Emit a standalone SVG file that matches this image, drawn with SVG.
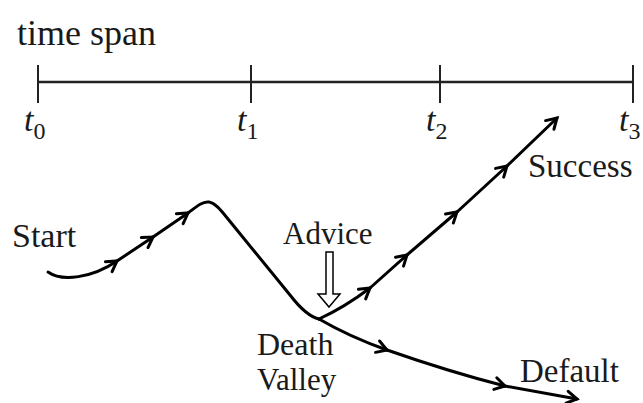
<svg xmlns="http://www.w3.org/2000/svg" width="643" height="403" viewBox="0 0 643 403">
<defs>
<style>
.lbl{font-family:"Liberation Serif","Times New Roman",serif;fill:#1a1a1a;}
.t{font-family:"Liberation Serif","Times New Roman",serif;fill:#1a1a1a;font-size:34px;}
.ti{font-style:italic;}
.sub{font-size:24px;}
.axis{stroke:#222;fill:none;}
.flow{stroke:#000;stroke-width:3;fill:none;stroke-linecap:round;stroke-linejoin:round;marker-end:url(#chev);}
.curve{stroke:#000;stroke-width:3;fill:none;stroke-linecap:round;stroke-linejoin:round;}
</style>
<marker id="chev" markerUnits="userSpaceOnUse" markerWidth="20" markerHeight="20" viewBox="-12 -10 16 20" refX="0" refY="0" orient="auto">
<path d="M-10,-6 L0,0 L-10,6" fill="none" stroke="#000" stroke-width="3" stroke-linecap="round" stroke-linejoin="miter"/>
</marker>
</defs>
<rect width="643" height="403" fill="#fff"/>

<g id="title"><text class="lbl" x="17" y="45" font-size="36">time span</text></g>

<g id="timeline">
<line class="axis" x1="38" y1="82" x2="633" y2="82" stroke-width="2.5"/>
<line class="axis" x1="38" y1="65" x2="38" y2="103" stroke-width="2"/>
<line class="axis" x1="251" y1="65" x2="251" y2="103" stroke-width="2"/>
<line class="axis" x1="440" y1="65" x2="440" y2="103" stroke-width="2"/>
<line class="axis" x1="633" y1="65" x2="633" y2="103" stroke-width="2"/>
<text class="t" x="24" y="131"><tspan class="ti">t</tspan><tspan class="sub" dy="8">0</tspan></text>
<text class="t" x="237" y="131"><tspan class="ti">t</tspan><tspan class="sub" dy="8">1</tspan></text>
<text class="t" x="426" y="131"><tspan class="ti">t</tspan><tspan class="sub" dy="8">2</tspan></text>
<text class="t" x="619" y="131"><tspan class="ti">t</tspan><tspan class="sub" dy="8">3</tspan></text>
</g>

<g id="start"><text class="lbl" x="12" y="247" font-size="34">Start</text></g>
<g id="advice">
<text class="lbl" x="283" y="244" font-size="31">Advice</text>
<polygon points="326,252 333,252 333,294 340,294 329,307 318,294 326,294" fill="#fff" stroke="#000" stroke-width="1.5" stroke-linejoin="miter"/>
</g>
<g id="success"><text class="lbl" x="528" y="177" font-size="33">Success</text></g>
<g id="death-valley">
<text class="lbl" x="257" y="355" font-size="32">Death</text>
<text class="lbl" x="257" y="390" font-size="31">Valley</text>
</g>
<g id="default"><text class="lbl" x="520" y="382" font-size="33">Default</text></g>

<g id="connectors">
<path class="flow" d="M48,272 C62,282 92,278 117,261"/>
<path class="flow" d="M117,261 L153,237"/>
<path class="flow" d="M153,237 L188,213"/>
<path class="curve" d="M188,213 C197,206 203,201 209,202 C215,203 220,209 228,219 L290,295 C300,308 310,317 319,319"/>
<path class="flow" d="M319,319 Q345,307 370,288"/>
<path class="flow" d="M370,288 L407,255"/>
<path class="flow" d="M407,255 L457,212"/>
<path class="flow" d="M457,212 L507,166"/>
<path class="flow" d="M507,166 L557,118"/>
<path class="flow" d="M319,319 Q350,337 387,350"/>
<path class="flow" d="M387,350 Q450,372 505,386"/>
<path class="flow" d="M505,386 L577,399"/>
</g>
</svg>
